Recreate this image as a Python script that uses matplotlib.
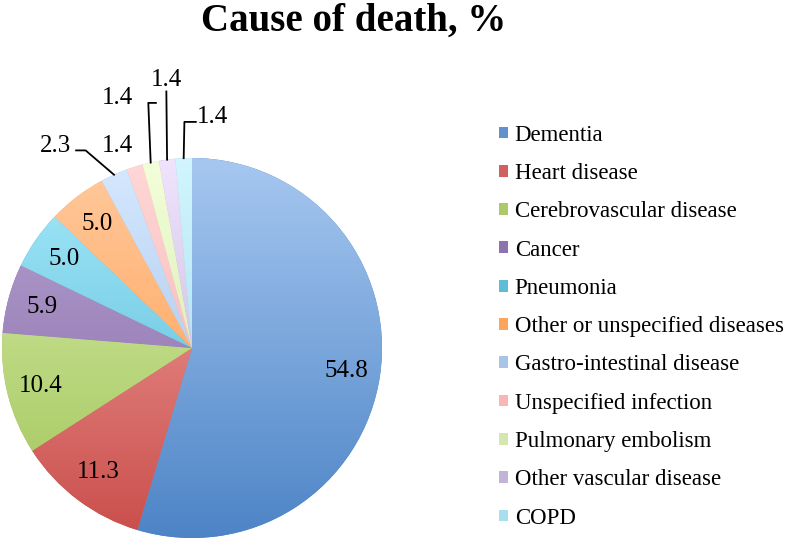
import numpy as np
import matplotlib.pyplot as plt
from matplotlib.patches import Patch
from matplotlib.colors import to_rgb, rgb_to_hsv, hsv_to_rgb

causes = ["Dementia", "Heart disease", "Cerebrovascular disease", "Cancer", "Pneumonia",
          "Other or unspecified diseases", "Gastro-intestinal disease", "Unspecified infection",
          "Pulmonary embolism", "Other vascular disease", "COPD"]
share = [54.8, 11.3, 10.4, 5.9, 5.0, 5.0, 2.3, 1.4, 1.4, 1.4, 1.4]
labels = ["54.8", "11.3", "10.4", "5.9", "5.0", "5.0", "2.3", "1.4", "1.4", "1.4", "1.4"]

base = ["#4f81bd", "#c0504d", "#9bbb59", "#8064a2", "#4bacc6", "#f79646",
        "#95b3d7", "#e6a3a2", "#c3d69b", "#b3a2c7", "#93cddd"]

plt.rcParams['font.family'] = ['Liberation Serif', 'DejaVu Serif']

fig = plt.figure(figsize=(7.85, 5.41), dpi=100)
ax = fig.add_axes([0, 0, 400 / 785, 481 / 541])

wedges, _ = ax.pie(share, colors=base, startangle=90, counterclock=False,
                   wedgeprops=dict(linewidth=0))

# excel-like vertical gradient: light tint on top, saturated at the bottom
def shade(c, s_f, v_f):
    h, s, v = rgb_to_hsv(to_rgb(c))
    return hsv_to_rgb((h, min(1, s * s_f), min(1, v * v_f)))

def ramp(c):
    top = shade(c, 0.53, 1.27)
    bot = shade(c, 1.05, 1.05)
    t = np.linspace(0, 1, 256)[:, None]
    return (top * (1 - t) + bot * t)[:, None, :]

for w, c in zip(wedges, base):
    im = ax.imshow(ramp(c), extent=[-1, 1, -1, 1], aspect='auto', zorder=2)
    im.set_clip_path(w)

# labels inside the big slices
for w, lab in zip(wedges[:6], labels[:6]):
    a = np.deg2rad((w.theta1 + w.theta2) / 2)
    ax.text(0.82 * np.cos(a), 0.82 * np.sin(a), lab, fontsize=18,
            ha='center', va='center', zorder=5)

# small slices: label offsets (text pos, elbow) in pie units
outside = {
    6: ((-0.72, 1.065), [(-0.56, 1.04), (-0.61, 1.04)]),
    7: ((-0.39, 1.065), None),
    8: ((-0.39, 1.315), [(-0.23, 1.29), (-0.19, 1.29)]),
    9: ((-0.135, 1.41), [(-0.135, 1.35)]),
    10: ((0.11, 1.215), [(-0.04, 1.19), (0.02, 1.19)]),
}
for i, (pos, elbow) in outside.items():
    w = wedges[i]
    a = np.deg2rad((w.theta1 + w.theta2) / 2)
    ax.text(pos[0], pos[1], labels[i], fontsize=18, ha='center', va='center', zorder=5)
    if elbow:
        pts = [(np.cos(a), np.sin(a))] + elbow
        ax.plot([p[0] for p in pts], [p[1] for p in pts], color='black', lw=1.3, zorder=4)

ax.set_xlim(-192 / 190, 208 / 190)
ax.set_ylim(-193 / 190, 288 / 190)
ax.set_aspect('auto')
ax.axis('off')

handles = [Patch(facecolor=shade(c, 0.9, 1.08), edgecolor='none') for c in base]
fig.legend(handles, causes, loc='upper left', bbox_to_anchor=(478 / 785, 1 - 104 / 541),
           frameon=False, fontsize=16.5, handlelength=0.42, handleheight=0.42,
           handletextpad=0.28, labelspacing=0.755)

fig.text(354 / 785, 1 - 21 / 541, "Cause of death, %", fontsize=28, fontweight='bold',
         ha='center', va='center')

fig.savefig("out.png")
